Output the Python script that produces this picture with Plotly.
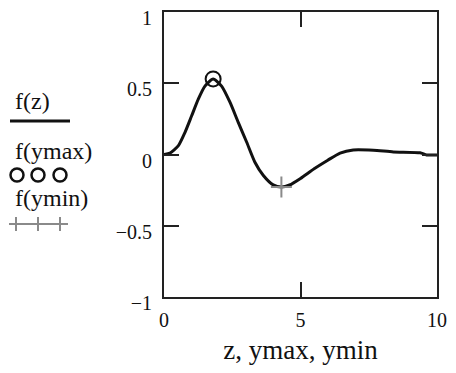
import plotly.graph_objects as go

# Data
z_vals = [0, 0.22, 0.52, 0.77, 1.01, 1.26, 1.5, 1.8, 2.11, 2.42, 2.72, 3.03, 3.33,
          3.64, 4.0, 4.3, 4.6, 5.0, 5.5, 6.0, 6.45, 6.93, 7.67, 8.4, 9.38, 9.62, 10]
f_vals = [0, 0.01, 0.06, 0.156, 0.27, 0.39, 0.48, 0.53, 0.48, 0.365, 0.225, 0.086, -0.054,
          -0.147, -0.213, -0.228, -0.214, -0.168, -0.1, -0.04, 0.01, 0.032, 0.03, 0.018,
          0.012, -0.003, -0.003]
ymax = [1.8]
f_ymax = [0.53]
ymin = [4.3]
f_ymin = [-0.228]

x_ticks = [0, 5, 10]
x_ticktext = ["0", "5", "10"]
y_ticks = [-1, -0.5, 0, 0.5, 1]
y_ticktext = ["\u22121", "\u22120.5", "0", "0.5", "1"]

# page is offset by the default 8px body margin
OFF = 8
W, H = 456 - 2 * OFF, 373 - 2 * OFF
SERIF = "Liberation Serif, Times New Roman, serif"
AX = "#222222"
TXT = "#111111"

fig = go.Figure()
fig.add_trace(go.Scatter(x=z_vals, y=f_vals, mode="lines",
                         line=dict(color="#111111", width=3, shape="spline", smoothing=0.6),
                         showlegend=False))
fig.add_trace(go.Scatter(x=ymax, y=f_ymax, mode="markers",
                         marker=dict(symbol="circle-open", size=15, color="#111111",
                                     line=dict(width=2, color="#111111")),
                         showlegend=False))
fig.add_trace(go.Scatter(x=ymin, y=f_ymin, mode="markers",
                         marker=dict(symbol="cross-thin-open", size=15, color="#8a8a8a",
                                     line=dict(width=2, color="#8a8a8a")),
                         showlegend=False))

def px(x):
    return (x - OFF) / W

def py(y):
    return 1 - (y - OFF) / H

# Legend-like texts and samples on the left
texts = [("f(z)", 101), ("f(ymax)", 151), ("f(ymin)", 198)]
for t, yy in texts:
    fig.add_annotation(text=t, xref="paper", yref="paper", x=px(13), y=py(yy),
                       xanchor="left", yanchor="middle", showarrow=False,
                       font=dict(family=SERIF, size=24, color=TXT))

shapes = []
shapes.append(dict(type="line", xref="paper", yref="paper", x0=px(10), x1=px(70),
                   y0=py(121), y1=py(121), line=dict(color="#111111", width=3)))
for cx in [17, 38, 60]:
    r = 6.5
    shapes.append(dict(type="circle", xref="paper", yref="paper",
                       x0=px(cx - r), x1=px(cx + r), y0=py(175 + r), y1=py(175 - r),
                       line=dict(color="#111111", width=2.5)))
shapes.append(dict(type="line", xref="paper", yref="paper", x0=px(9), x1=px(68),
                   y0=py(224), y1=py(224), line=dict(color="#8a8a8a", width=2)))
for cx in [16, 38, 60]:
    shapes.append(dict(type="line", xref="paper", yref="paper", x0=px(cx), x1=px(cx),
                       y0=py(224 - 7), y1=py(224 + 7), line=dict(color="#8a8a8a", width=2)))
fig.update_layout(shapes=shapes)

fig.update_layout(
    width=W, height=H,
    margin=dict(l=0, r=0, t=0, b=0),
    paper_bgcolor="white", plot_bgcolor="white",
    showlegend=False,
    xaxis=dict(domain=[px(164), px(437)], range=[0, 10], tickvals=x_ticks, ticktext=x_ticktext,
               ticks="inside", ticklen=15, tickwidth=2, tickcolor=AX,
               showline=True, linewidth=2, linecolor=AX, mirror="ticks",
               showgrid=False, zeroline=False, automargin=False,
               ticklabelstandoff=4,
               tickfont=dict(family=SERIF, size=20, color=TXT),
               title=dict(text="z, ymax, ymin", standoff=16,
                          font=dict(family=SERIF, size=27, color=TXT))),
    yaxis=dict(domain=[py(297), py(12)], range=[-1, 1], tickvals=y_ticks, ticktext=y_ticktext,
               ticks="inside", ticklen=15, tickwidth=2, tickcolor=AX,
               showline=True, linewidth=2, linecolor=AX, mirror="ticks",
               showgrid=False, zeroline=False, automargin=False,
               ticklabelshift=6, ticklabelstandoff=6, ticklabeloverflow="allow",
               tickfont=dict(family=SERIF, size=20, color=TXT)),
)

fig.write_html("out.html")
